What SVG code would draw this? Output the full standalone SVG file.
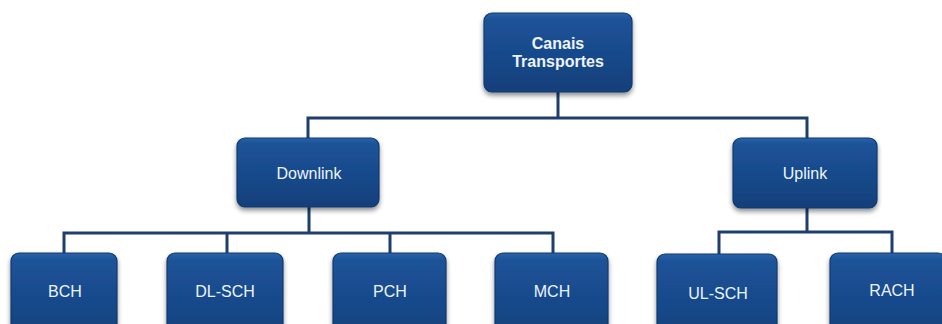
<svg xmlns="http://www.w3.org/2000/svg" width="942" height="324" viewBox="0 0 942 324">
<defs>
<linearGradient id="g" x1="0" y1="0" x2="0" y2="1">
<stop offset="0" stop-color="#2a62a8"/>
<stop offset="0.08" stop-color="#1d5398"/>
<stop offset="0.5" stop-color="#184a8c"/>
<stop offset="1" stop-color="#123f7a"/>
</linearGradient>
<filter id="sh" x="-20%" y="-20%" width="140%" height="150%">
<feGaussianBlur in="SourceAlpha" stdDeviation="2.5"/>
<feOffset dx="0" dy="3"/>
<feComponentTransfer><feFuncA type="linear" slope="0.45"/></feComponentTransfer>
<feMerge><feMergeNode/><feMergeNode in="SourceGraphic"/></feMerge>
</filter>
</defs>
<style>
.box{fill:url(#g);stroke:#0f3a72;stroke-width:1.2;filter:url(#sh)}
.t{font-family:"Liberation Sans",Arial,sans-serif;font-size:16px;fill:#eef4ff;text-anchor:middle}
.b{font-weight:bold}
.c{fill:none;stroke:#1e3f6e;stroke-width:3;stroke-linejoin:miter}
</style>
<g id="connectors">
<path class="c" d="M558 92 V118 M308 138 V118 H807 V138"/>
<path class="c" d="M309 207 V233 M64 253 V233 H553 V253 M227 233 V253 M390 233 V253"/>
<path class="c" d="M807 208 V232 M719 254 V232 H892 V253"/>
</g>
<g id="root">
<rect class="box" x="484" y="13" width="148" height="79" rx="8"/>
<text class="t b" x="558" y="49">Canais</text>
<text class="t b" x="558" y="67">Transportes</text>
</g>
<g id="downlink">
<rect class="box" x="237" y="138" width="142" height="69" rx="8"/>
<text class="t" x="309" y="179">Downlink</text>
</g>
<g id="uplink">
<rect class="box" x="733" y="138" width="144" height="70" rx="8"/>
<text class="t" x="805" y="179">Uplink</text>
</g>
<g id="bch">
<rect class="box" x="11" y="253" width="106" height="90" rx="8"/>
<text class="t" x="65" y="297">BCH</text>
</g>
<g id="dlsch">
<rect class="box" x="167" y="253" width="116" height="90" rx="8"/>
<text class="t" x="225" y="297">DL-SCH</text>
</g>
<g id="pch">
<rect class="box" x="333" y="253" width="113" height="90" rx="8"/>
<text class="t" x="390" y="297">PCH</text>
</g>
<g id="mch">
<rect class="box" x="495" y="253" width="113" height="90" rx="8"/>
<text class="t" x="552" y="297">MCH</text>
</g>
<g id="ulsch">
<rect class="box" x="657" y="254" width="120" height="90" rx="8"/>
<text class="t" x="718" y="299">UL-SCH</text>
</g>
<g id="rach">
<rect class="box" x="830" y="253" width="116" height="90" rx="8"/>
<text class="t" x="892" y="296">RACH</text>
</g>
</svg>
